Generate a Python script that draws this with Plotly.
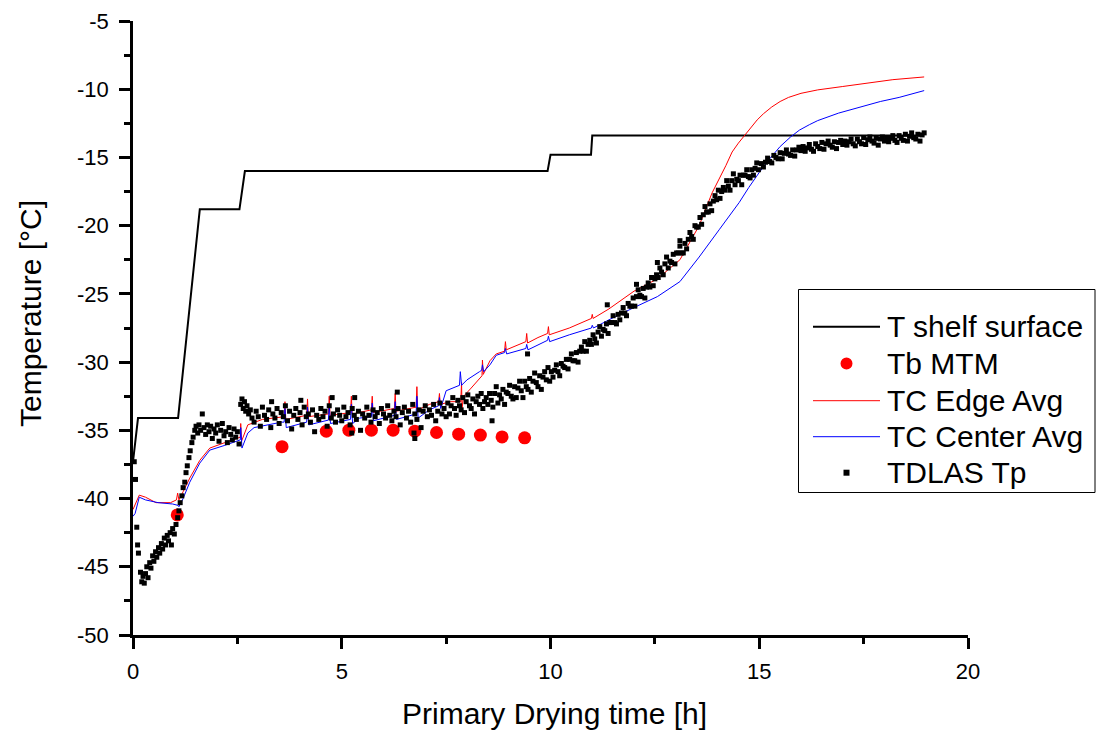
import plotly.graph_objects as go

# ---------------- data ----------------
shelf_t = [0.0, 0.12, 1.08, 1.6, 2.55, 2.68, 9.93, 10.0, 10.97, 11.0, 18.95]
shelf_T = [-37.3, -34.1, -34.1, -18.8, -18.8, -16.0, -16.0, -14.8, -14.8, -13.4, -13.4]

mtm_t = [1.06, 3.57, 4.63, 5.17, 5.71, 6.23, 6.75, 7.27, 7.80, 8.32, 8.84, 9.38]
mtm_T = [-41.2, -36.2, -35.06, -34.99, -34.99, -34.99, -35.06, -35.16, -35.28, -35.35, -35.48, -35.55]

edge_t = [0.0, 0.05, 0.15, 0.3, 0.55, 0.9, 1.04, 1.07, 1.1, 1.2, 1.36, 1.6, 1.84, 2.2, 2.5, 2.57, 2.58,
          2.6, 2.75, 3.1, 3.62, 3.64, 3.66, 4.16, 4.18, 4.2, 4.68, 4.70, 4.72, 5.21, 5.23, 5.25, 5.71,
          5.73, 5.75, 6.26, 6.28, 6.30, 6.78, 6.80, 6.82, 7.1, 7.32, 7.34, 7.36, 7.6, 7.85, 7.87, 7.88,
          7.92, 8.1, 8.3, 8.36, 8.37, 8.39, 8.55, 8.7, 8.9, 8.92, 8.94, 9.2, 9.41, 9.43, 9.45, 9.7,
          9.93, 9.95, 9.97, 10.45, 10.98, 11.0, 11.02, 11.4, 12.0, 12.56, 13.1, 13.56, 13.87, 14.2,
          14.35, 14.5, 14.64, 14.8, 14.95, 15.1, 15.3, 15.5, 15.7, 16.0, 16.4, 17.0, 17.55, 18.2, 18.95]
edge_T = [-40.8, -40.4, -39.75, -39.9, -40.3, -40.3, -40.1, -39.6, -40.1, -39.5, -38.5, -37.2, -36.3,
          -35.9, -35.6, -35.5, -34.5, -35.8, -34.6, -34.2, -34.0, -32.9, -34.2, -33.9, -32.7, -34.0,
          -33.8, -32.5, -33.9, -33.7, -32.5, -33.8, -33.5, -32.5, -33.7, -33.4, -32.3, -33.6, -33.3,
          -31.8, -33.5, -33.1, -32.9, -32.3, -33.1, -32.9, -32.9, -31.5, -33.4, -32.5, -31.9, -31.2,
          -31.0, -29.85, -30.9, -29.9, -29.4, -29.2, -28.5, -29.1, -28.8, -28.5, -27.9, -28.6, -28.2,
          -27.9, -27.4, -28.0, -27.5, -26.8, -26.5, -26.8, -26.1, -24.8, -23.9, -22.5, -20.0, -17.6,
          -15.6, -14.6, -13.95, -13.4, -12.8, -12.25, -11.8, -11.3, -10.9, -10.6, -10.3, -10.05, -9.8,
          -9.55, -9.3, -9.1]

center_t = [0.0, 0.05, 0.15, 0.3, 0.6, 0.95, 1.08, 1.1, 1.2, 1.36, 1.6, 1.84, 2.2, 2.5, 2.57, 2.58,
            2.61, 2.75, 2.9, 3.56, 3.62, 3.64, 3.67, 4.16, 4.18, 4.21, 4.68, 4.70, 4.73, 5.21, 5.23,
            5.26, 5.43, 5.71, 5.73, 5.76, 6.26, 6.28, 6.31, 6.78, 6.80, 6.83, 7.1, 7.32, 7.34, 7.37,
            7.5, 7.82, 7.84, 7.87, 8.0, 8.3, 8.35, 8.37, 8.40, 8.55, 8.7, 8.9, 8.92, 8.95, 9.2, 9.41,
            9.43, 9.46, 9.93, 9.95, 9.98, 10.45, 10.98, 11.0, 11.03, 11.4, 12.0, 12.56, 13.1, 13.56,
            14.04, 14.52, 14.75, 15.0, 15.25, 15.5, 15.75, 15.96, 16.2, 16.4, 16.9, 17.4, 17.9, 18.35,
            18.95]
center_T = [-41.3, -41.1, -39.9, -40.1, -40.3, -40.4, -40.5, -40.6, -40.0, -38.8, -37.4, -36.45, -36.1,
            -35.8, -35.7, -34.8, -36.3, -35.2, -34.8, -34.4, -34.4, -33.4, -34.8, -34.4, -33.3, -34.6,
            -34.25, -33.2, -34.5, -34.2, -33.1, -34.5, -34.1, -34.0, -33.0, -34.3, -33.9, -32.9, -34.2,
            -33.8, -32.5, -34.1, -33.5, -33.2, -32.6, -33.4, -32.1, -31.7, -30.7, -31.7, -31.3, -30.7,
            -30.6, -30.2, -30.7, -30.2, -29.5, -29.3, -29.0, -29.4, -29.2, -29.0, -28.7, -29.1, -28.4,
            -28.1, -28.5, -28.0, -27.5, -27.3, -27.5, -26.9, -26.0, -25.2, -24.1, -22.3, -20.3, -18.3,
            -17.2, -16.1, -15.1, -14.2, -13.5, -13.0, -12.6, -12.3, -11.75, -11.3, -10.9, -10.6, -10.1]

# TDLAS product temperature points
tdlas_pts = [
    # early cold points and first rise
    (0.03, -37.3), (0.06, -38.6), (0.09, -42.1), (0.11, -43.4), (0.13, -44.0), (0.18, -45.4), (0.21, -46.1), (0.24, -45.7),
    (0.27, -46.2), (0.30, -45.5), (0.33, -45.0), (0.36, -45.8), (0.40, -44.7), (0.43, -45.1), (0.47, -44.2), (0.50, -44.6),
    (0.54, -43.9), (0.57, -44.3), (0.61, -43.6), (0.64, -44.0), (0.68, -43.3), (0.71, -43.7), (0.75, -42.9), (0.78, -43.4),
    (0.82, -42.7), (0.85, -43.1), (0.89, -42.5), (0.92, -43.4), (0.95, -42.2), (0.99, -42.6),
    (1.03, -41.9), (1.07, -41.4), (1.10, -40.9), (1.13, -40.3), (1.17, -39.8), (1.20, -39.2), (1.24, -38.8), (1.27, -38.1),
    (1.30, -37.6), (1.34, -37.0), (1.37, -36.5), (1.41, -35.9), (1.44, -35.5), (1.48, -35.0), (1.51, -34.7), (1.55, -35.2),
    (1.58, -34.6), (1.62, -35.0), (1.66, -33.8),
    (1.70, -34.8), (1.74, -35.3), (1.78, -34.6), (1.82, -35.1), (1.86, -34.7), (1.90, -35.6), (1.94, -34.9), (1.98, -35.2),
    (2.02, -34.6), (2.06, -35.8), (2.10, -35.0), (2.14, -34.5), (2.18, -35.4), (2.22, -35.1), (2.26, -35.9), (2.30, -34.8),
    (2.34, -35.3), (2.38, -35.7), (2.42, -34.9), (2.46, -35.5), (2.50, -35.1), (2.54, -36.0),
    (2.58, -33.1), (2.61, -32.7), (2.64, -33.4), (2.67, -32.9), (2.70, -33.6), (2.73, -33.2), (2.77, -33.8), (2.81, -33.5),
    (2.85, -34.1),
    # plateau
    (2.90, -34.4), (2.95, -33.6), (3.00, -34.0), (3.05, -34.7), (3.10, -33.3), (3.15, -33.9), (3.20, -34.2), (3.25, -33.5),
    (3.30, -34.8), (3.35, -33.8), (3.40, -34.1), (3.45, -33.4), (3.50, -34.5), (3.55, -33.7), (3.60, -34.0), (3.65, -33.2),
    (3.70, -34.3), (3.75, -33.6), (3.80, -34.9), (3.85, -33.9), (3.90, -33.4), (3.95, -34.2), (4.00, -33.7), (4.05, -34.6),
    (4.10, -33.3), (4.15, -34.0), (4.20, -33.8), (4.25, -34.4), (4.30, -33.5), (4.35, -35.1), (4.40, -33.9), (4.45, -34.2),
    (4.50, -33.4), (4.55, -34.0), (4.60, -33.6), (4.65, -34.7), (4.70, -33.2), (4.75, -34.1), (4.80, -33.8), (4.85, -34.4),
    (4.90, -33.5), (4.95, -33.9), (5.00, -34.3), (5.05, -33.3), (5.10, -34.0), (5.15, -33.7), (5.20, -34.6), (5.25, -33.4),
    (5.30, -33.9), (5.35, -34.2), (5.40, -33.6), (5.45, -35.0), (5.50, -33.8), (5.55, -34.1), (5.60, -33.3), (5.65, -33.9),
    (5.70, -34.4), (5.75, -33.5), (5.80, -34.0), (5.85, -33.7), (5.90, -34.5), (5.95, -33.4), (6.00, -33.8), (6.05, -34.1),
    (6.10, -33.2), (6.15, -33.9), (6.20, -34.3), (6.25, -33.6), (6.30, -34.0), (6.35, -33.4), (6.40, -34.6), (6.45, -33.7),
    (6.50, -33.3), (6.55, -34.1), (6.60, -33.6), (6.65, -34.4), (6.70, -33.1), (6.75, -33.8), (6.80, -34.2), (6.85, -33.5),
    (6.90, -34.8), (6.95, -33.6), (7.00, -33.2), (7.05, -34.0), (7.10, -33.5), (7.15, -33.9), (7.20, -33.1), (7.25, -34.3),
    (7.30, -33.6), (7.35, -33.0), (7.40, -33.8), (7.45, -33.4), (7.50, -34.0),
    (4.77, -32.6), (5.31, -32.6), (6.33, -32.2), (5.24, -35.2), (6.75, -35.6), (6.73, -35.2), (3.32, -32.9), (4.02, -32.8),
    # slow rise
    (7.54, -33.0), (7.58, -33.8), (7.62, -33.2), (7.66, -32.6), (7.70, -33.4), (7.74, -33.9), (7.78, -32.8), (7.82, -33.2),
    (7.86, -33.5), (7.90, -32.6), (7.94, -33.7), (7.98, -32.9), (8.02, -32.4), (8.06, -33.2), (8.10, -33.4), (8.14, -32.7),
    (8.18, -33.8), (8.22, -32.9), (8.26, -32.5), (8.30, -33.1), (8.34, -32.3), (8.38, -33.4), (8.42, -32.9), (8.46, -32.6),
    (8.50, -33.1), (8.54, -32.3), (8.58, -32.8), (8.62, -33.3), (8.66, -32.3), (8.70, -31.8), (8.74, -33.0), (8.78, -32.4),
    (8.82, -32.7), (8.86, -32.0), (8.90, -33.1), (8.94, -32.2), (8.98, -32.3), (9.02, -31.7), (9.06, -32.5), (9.10, -32.7),
    (9.14, -31.8), (9.18, -32.6), (9.22, -31.9), (9.26, -31.4), (9.30, -32.1), (9.34, -32.6), (9.38, -31.4), (9.42, -31.8),
    (9.46, -32.0), (9.50, -31.2), (9.54, -32.2), (9.58, -31.4), (9.62, -30.8), (9.66, -31.5), (9.70, -31.8), (9.74, -31.0),
    (9.78, -32.0), (9.82, -31.1), (9.86, -30.7), (9.90, -31.3), (9.94, -30.4), (9.98, -31.4),
    (8.60, -34.3), (9.45, -29.4),
    # main rise
    (10.02, -30.7), (10.06, -31.1), (10.10, -30.6), (10.14, -30.2), (10.18, -30.7), (10.22, -31.0), (10.26, -30.1), (10.30, -30.3),
    (10.34, -30.4), (10.38, -29.8), (10.42, -30.5), (10.46, -29.8), (10.50, -29.4), (10.54, -29.9), (10.58, -29.9), (10.62, -29.3),
    (10.66, -30.0), (10.70, -29.2), (10.74, -28.9), (10.78, -29.2), (10.82, -28.5), (10.86, -29.2), (10.90, -28.7), (10.94, -28.4),
    (10.98, -28.7), (11.02, -28.0), (11.06, -28.3), (11.10, -28.6), (11.14, -27.8), (11.18, -27.4), (11.22, -28.1), (11.26, -27.6),
    (11.30, -27.7), (11.34, -27.2), (11.38, -27.9), (11.42, -27.1), (11.46, -27.1), (11.50, -26.6), (11.54, -27.1), (11.58, -27.2),
    (11.62, -26.5), (11.66, -26.9), (11.70, -26.4), (11.74, -26.0), (11.78, -26.4), (11.82, -26.6), (11.86, -25.7), (11.90, -25.9),
    (11.94, -25.9), (11.98, -25.3), (12.02, -25.9), (12.06, -25.2), (12.10, -24.7), (12.14, -25.1), (12.18, -25.2), (12.22, -24.6),
    (12.26, -25.3), (12.30, -24.5), (12.34, -24.2), (12.38, -24.5), (12.42, -23.8), (12.46, -24.4), (12.50, -23.9), (12.54, -23.6),
    (12.58, -23.8), (12.62, -23.1), (12.66, -23.4), (12.70, -23.6), (12.74, -22.8), (12.78, -22.3), (12.82, -23.1), (12.86, -22.6),
    (12.90, -22.7), (12.94, -22.1), (12.98, -22.8), (13.02, -22.0), (13.06, -22.0), (13.10, -21.5), (13.14, -22.0), (13.18, -22.0),
    (13.22, -21.3), (13.26, -21.7), (13.30, -21.0), (13.34, -20.5), (13.38, -20.8), (13.42, -21.0), (13.46, -20.0), (13.50, -20.1),
    (13.54, -20.1), (13.58, -19.4), (13.62, -19.9), (13.66, -19.2), (13.70, -18.6), (13.74, -19.0), (13.78, -19.0), (13.82, -18.4),
    (13.86, -18.9), (13.90, -18.2), (13.94, -17.8), (13.98, -18.1), (14.02, -17.4), (14.06, -18.0), (14.10, -17.5), (14.14, -17.2),
    (14.18, -17.4), (14.22, -16.7), (14.26, -17.1), (14.30, -17.4), (14.34, -16.7), (14.38, -16.2), (14.42, -17.0), (14.46, -16.6),
    (14.50, -16.7), (14.54, -16.3), (14.58, -17.0), (14.62, -16.3), (14.66, -16.3), (14.70, -15.9), (14.74, -16.4), (14.78, -16.5),
    (14.82, -15.9), (14.86, -16.3), (14.90, -15.8), (14.94, -15.4), (14.98, -15.9),
    (11.36, -25.8), (12.06, -24.3), (12.56, -22.7), (13.10, -21.1),
    # approach to shelf temperature
    (15.05, -15.45), (15.10, -15.7), (15.15, -15.35), (15.20, -15.05), (15.25, -15.3), (15.30, -15.4), (15.35, -14.85), (15.40, -15.0),
    (15.45, -15.1), (15.50, -14.65), (15.55, -15.1), (15.60, -14.7), (15.65, -14.45), (15.70, -14.75), (15.75, -14.85), (15.80, -14.45),
    (15.85, -14.9), (15.90, -14.45), (15.95, -14.25), (16.00, -14.5), (16.05, -14.2), (16.10, -14.55), (16.15, -14.3), (16.20, -14.05),
    (16.25, -14.4), (16.30, -14.55), (16.35, -14.0), (16.40, -14.2), (16.45, -14.35), (16.50, -13.9), (16.55, -14.4), (16.60, -14.0),
    (16.65, -13.8), (16.70, -14.1), (16.75, -14.25), (16.80, -13.85), (16.85, -14.35), (16.90, -13.9), (16.95, -13.75), (17.00, -14.05),
    (17.05, -13.8), (17.10, -14.1), (17.15, -13.85), (17.20, -13.65), (17.25, -14.0), (17.30, -14.15), (17.35, -13.65), (17.40, -13.85),
    (17.45, -14.0), (17.50, -13.55), (17.55, -14.05), (17.60, -13.7), (17.65, -13.5), (17.70, -13.8), (17.75, -13.95), (17.80, -13.6),
    (17.85, -14.1), (17.90, -13.65), (17.95, -13.5), (18.00, -13.8), (18.05, -13.55), (18.10, -13.85), (18.15, -13.6), (18.20, -13.4),
    (18.25, -13.75), (18.30, -13.9), (18.35, -13.4), (18.40, -13.6), (18.45, -13.75), (18.50, -13.3), (18.55, -13.8), (18.60, -13.45),
    (18.65, -13.2), (18.70, -13.55), (18.75, -13.65), (18.80, -13.3), (18.85, -13.8), (18.90, -13.35), (18.95, -13.2),
]
tdlas_t = [p[0] for p in tdlas_pts]
tdlas_T = [p[1] for p in tdlas_pts]

x_ticks = [0, 5, 10, 15, 20]
x_ticktext = ["0", "5", "10", "15", "20"]
y_ticks = [-50, -45, -40, -35, -30, -25, -20, -15, -10, -5]
y_ticktext = ["-50", "-45", "-40", "-35", "-30", "-25", "-20", "-15", "-10", "-5"]

legend_names = ["T shelf surface", "Tb MTM", "TC Edge Avg", "TC Center Avg", "TDLAS Tp"]
x_title = "Primary Drying time [h]"
y_title = "Temperature [°C]"

FONT = "Liberation Sans, Arial, sans-serif"

# plot area in pixels (for the hand-drawn legend box and titles)
W, H = 1096, 731
L, R, T, B = 133, 128, 21, 96
PW, PH = W - L - R, H - T - B


def px(xp):
    return (xp - L) / PW


def py(yp):
    return (H - B - yp) / PH


fig = go.Figure()
fig.add_trace(go.Scatter(x=shelf_t, y=shelf_T, mode="lines", name=legend_names[0],
                         line=dict(color="black", width=2)))
fig.add_trace(go.Scatter(x=edge_t, y=edge_T, mode="lines", name=legend_names[2],
                         line=dict(color="#ff0000", width=1)))
fig.add_trace(go.Scatter(x=center_t, y=center_T, mode="lines", name=legend_names[3],
                         line=dict(color="#0000ff", width=1)))
fig.add_trace(go.Scatter(x=mtm_t, y=mtm_T, mode="markers", name=legend_names[1],
                         marker=dict(color="#ff0000", size=13, symbol="circle", line=dict(width=0))))
fig.add_trace(go.Scatter(x=tdlas_t, y=tdlas_T, mode="markers", name=legend_names[4],
                         marker=dict(color="black", size=5, symbol="square", line=dict(width=0))))

# ---- legend drawn by hand (box, samples, labels) ----
shapes = [dict(type="rect", xref="paper", yref="paper", layer="above",
               x0=px(798.5), x1=px(1095), y0=py(289.5), y1=py(492.5),
               line=dict(color="black", width=1), fillcolor="white")]
rows_y = [326.7, 363.5, 400.7, 436.7, 472.7]
sample_x0, sample_x1, sample_xc = 813, 880, 846.5
shapes.append(dict(type="line", xref="paper", yref="paper", layer="above",
                   x0=px(sample_x0), x1=px(sample_x1), y0=py(rows_y[0]), y1=py(rows_y[0]),
                   line=dict(color="black", width=2)))
shapes.append(dict(type="circle", xref="paper", yref="paper", layer="above",
                   x0=px(sample_xc - 6), x1=px(sample_xc + 6), y0=py(rows_y[1] + 6), y1=py(rows_y[1] - 6),
                   line=dict(width=0), fillcolor="#ff0000"))
shapes.append(dict(type="line", xref="paper", yref="paper", layer="above",
                   x0=px(sample_x0), x1=px(sample_x1), y0=py(rows_y[2]), y1=py(rows_y[2]),
                   line=dict(color="#ff0000", width=1)))
shapes.append(dict(type="line", xref="paper", yref="paper", layer="above",
                   x0=px(sample_x0), x1=px(sample_x1), y0=py(rows_y[3]), y1=py(rows_y[3]),
                   line=dict(color="#0000ff", width=1)))
shapes.append(dict(type="rect", xref="paper", yref="paper", layer="above",
                   x0=px(sample_xc - 3), x1=px(sample_xc + 3), y0=py(rows_y[4] + 3), y1=py(rows_y[4] - 3),
                   line=dict(width=0), fillcolor="black"))
annotations = []
for name, ry in zip(legend_names, rows_y):
    annotations.append(dict(xref="paper", yref="paper", x=px(885), y=py(ry), text=name,
                            showarrow=False, xanchor="left", yanchor="middle",
                            font=dict(family=FONT, size=30, color="black")))
# axis titles
annotations.append(dict(xref="paper", yref="paper", x=px(554), y=py(713), text=x_title,
                        showarrow=False, xanchor="center", yanchor="middle",
                        font=dict(family=FONT, size=30, color="black")))
annotations.append(dict(xref="paper", yref="paper", x=px(30), y=py(314), text=y_title,
                        showarrow=False, xanchor="center", yanchor="middle", textangle=-90,
                        font=dict(family=FONT, size=30, color="black")))

axis_common = dict(showline=True, linecolor="black", linewidth=2.5, ticks="outside", ticklen=11,
                   tickwidth=2.5, tickcolor="black", showgrid=False, zeroline=False, mirror=False,
                   tickfont=dict(family=FONT, size=22, color="black"))

fig.update_layout(
    width=W, height=H,
    margin=dict(l=L, r=R, t=T, b=B, autoexpand=False),
    paper_bgcolor="white", plot_bgcolor="white",
    font=dict(family=FONT, color="black"),
    showlegend=False,
    shapes=shapes,
    annotations=annotations,
    xaxis=dict(range=[0, 20], tickmode="array", tickvals=x_ticks, ticktext=x_ticktext,
               ticklabelstandoff=4,
               minor=dict(ticks="outside", ticklen=6, tickwidth=2.5, tickcolor="black",
                          tickvals=[2.5, 7.5, 12.5, 17.5]),
               **axis_common),
    yaxis=dict(range=[-50, -5], tickmode="array", tickvals=y_ticks, ticktext=y_ticktext,
               ticklabelstandoff=6,
               minor=dict(ticks="outside", ticklen=6, tickwidth=2.5, tickcolor="black",
                          tickvals=[-47.5, -42.5, -37.5, -32.5, -27.5, -22.5, -17.5, -12.5, -7.5]),
               **axis_common),
)

fig.write_html("out.html")
